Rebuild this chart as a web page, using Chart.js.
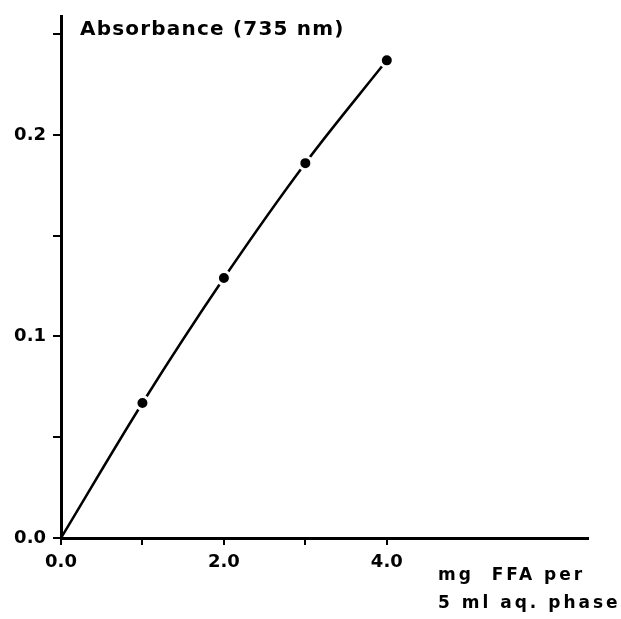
<!DOCTYPE html>
<html>
<head>
<meta charset="utf-8">
<script src="https://cdn.jsdelivr.net/npm/chart.js@4"></script>
<style>
  html, body { margin: 0; padding: 0; background: #fff; }
  #wrap { width: 621px; height: 619px; }
</style>
</head>
<body>
<div id="wrap"><canvas id="calib"></canvas></div>
<script>
// values
const ffaMg = [0, 1, 2, 3, 4];
const absorbance = [0, 0.067, 0.129, 0.186, 0.237];
const pointSizes = [0, 6.5, 6.5, 6.5, 6.5];
const xTickLabels = { 0: '0.0', 2: '2.0', 4: '4.0' };
const yTickLabels = { 0: '0.0', 10: '0.1', 20: '0.2' };
const titleText = 'Absorbance (735 nm)';
const xTitleLines = ['mg  FFA per', '5 ml aq. phase'];

const FONT = '"DejaVu Sans", "Liberation Sans", sans-serif';

const textPlugin = {
    id: 'figText',
    afterDraw(chart) {
        const ctx = chart.ctx;
        const area = chart.chartArea;
        ctx.save();
        ctx.fillStyle = '#000';
        ctx.textBaseline = 'alphabetic';
        ctx.textAlign = 'left';
        ctx.font = 'bold 20px ' + FONT;
        ctx.letterSpacing = '1.2px';
        ctx.fillText(titleText, area.left + 19, 35);
        ctx.font = 'bold 17px ' + FONT;
        ctx.letterSpacing = '3px';
        ctx.fillText(xTitleLines[0], 438, 580);
        ctx.fillText(xTitleLines[1], 438, 608);
        ctx.restore();
    }
};

new Chart(document.getElementById('calib').getContext('2d'), {
    type: 'line',
    data: {
        datasets: [{
            label: 'Absorbance',
            data: ffaMg.map((x, i) => ({ x: x, y: absorbance[i] })),
            borderColor: '#000',
            borderWidth: 2.5,
            backgroundColor: '#000',
            pointBackgroundColor: '#000',
            pointBorderColor: '#fff',
            pointBorderWidth: 3,
            pointRadius: pointSizes,
            cubicInterpolationMode: 'monotone',
            fill: false
        }]
    },
    options: {
        responsive: true,
        maintainAspectRatio: false,
        animation: false,
        layout: { padding: { top: 13, right: 33, left: 0, bottom: 0 } },
        plugins: {
            legend: { display: false },
            tooltip: { enabled: false }
        },
        scales: {
            x: {
                type: 'linear',
                min: 0,
                max: 6.47,
                border: { color: '#000', width: 3 },
                grid: { drawOnChartArea: false, tickLength: 7, tickColor: '#000', lineWidth: 2 },
                afterBuildTicks: function (scale) {
                    scale.ticks = scale.ticks.filter(t => t.value <= 4.001);
                },
                afterFit: function (scale) { scale.height = 81; },
                ticks: {
                    stepSize: 1,
                    autoSkip: false,
                    maxRotation: 0,
                    padding: 8,
                    color: '#000',
                    font: { family: FONT, size: 18, weight: 'bold', lineHeight: 1 },
                    callback: v => xTickLabels[Math.round(v)] || ''
                }
            },
            y: {
                min: 0,
                max: 0.259,
                border: { color: '#000', width: 3 },
                grid: { drawOnChartArea: false, tickLength: 8, tickColor: '#000', lineWidth: 2 },
                afterBuildTicks: function (scale) {
                    scale.ticks = scale.ticks.filter(t => t.value <= 0.2501);
                },
                afterFit: function (scale) { scale.width = 61; },
                ticks: {
                    stepSize: 0.05,
                    autoSkip: false,
                    padding: 7,
                    color: '#000',
                    font: { family: FONT, size: 18, weight: 'bold', lineHeight: 1 },
                    callback: v => yTickLabels[Math.round(v * 100)] || ''
                }
            }
        }
    },
    plugins: [textPlugin]
});
</script>
</body>
</html>
